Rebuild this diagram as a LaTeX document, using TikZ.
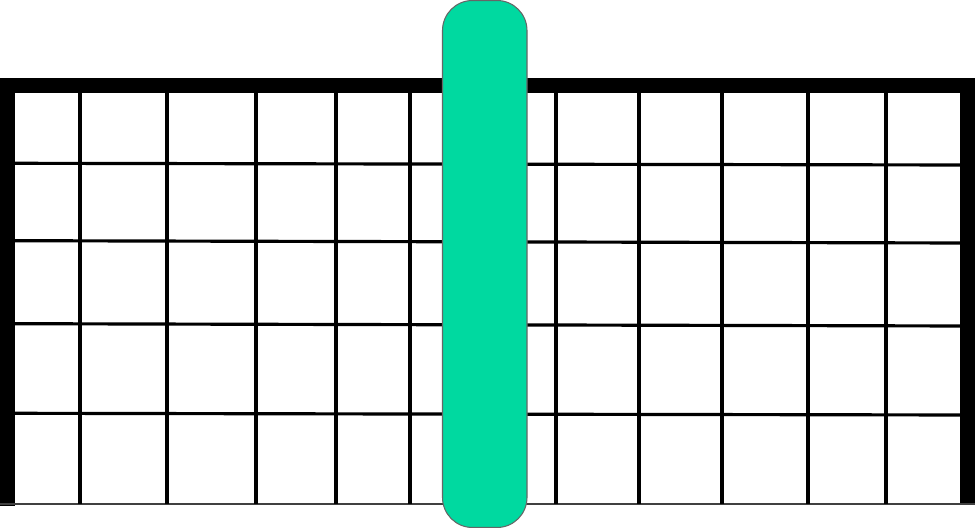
\documentclass[tikz,border=0pt]{standalone}
\usepackage{tikz}
\definecolor{verde}{RGB}{0,217,160}

\begin{document}
\begin{tikzpicture}[x=0.01cm, y=-0.01cm]
\useasboundingbox (0,0) rectangle (975,528);
% --- cornice ---
\fill[black] (0,78) rectangle (975,93);
\fill[black] (0,78) rectangle (14.7,506);
\fill[black] (960,78) rectangle (975,504);
\draw[line width=0.3pt, black!75] (0,504) -- (975,504);
% --- griglia ---
\foreach \xg in {80,167,256,336,410,556,639,722,808,886}
  \draw[line width=0.9pt] (\xg,93) -- (\xg,504);
\foreach \ya/\yb in {163.3/165,240.7/243,323.7/326,413.3/415}
  \draw[line width=0.9pt] (14.7,\ya) -- (960,\yb);
% --- barra verde ---
\filldraw[fill=verde, draw=black!60, line width=0.3pt, rounded corners=0.3cm] (442.5,0.5) rectangle (527,527.5);
\end{tikzpicture}
\end{document}
